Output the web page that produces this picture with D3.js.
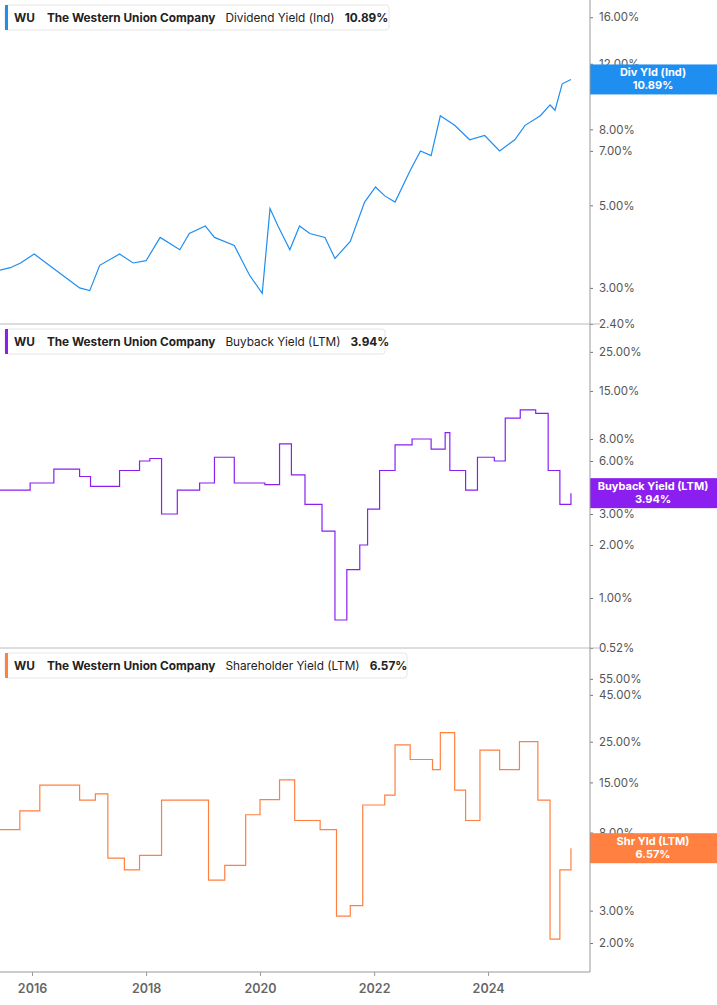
<!DOCTYPE html>
<html><head><meta charset="utf-8">
<script src="https://cdn.jsdelivr.net/npm/d3@7"></script>
<style>body{margin:0;background:#fff;font-family:Inter,"Noto Sans",sans-serif}</style>
</head><body><svg id="chart" width="717" height="1005"></svg>
<script>
// dividend yield (indicated), %
const divDates = ["2015-06-10","2015-08-15","2015-10-20","2016-01-15","2016-04-20","2016-08-25","2016-11-01","2017-01-05","2017-03-10","2017-07-15","2017-10-10","2018-01-01","2018-04-01","2018-08-05","2018-10-05","2019-01-15","2019-03-15","2019-07-20","2019-10-25","2020-01-15","2020-03-05","2020-04-25","2020-07-10","2020-09-10","2020-11-15","2021-02-20","2021-04-25","2021-08-01","2021-11-01","2022-01-10","2022-03-10","2022-05-15","2022-08-20","2022-10-25","2023-01-01","2023-03-01","2023-06-01","2023-09-05","2023-12-10","2024-03-15","2024-06-20","2024-08-25","2024-12-01","2025-02-01","2025-03-05","2025-04-20","2025-06-15"];
const divVals = [3.35,3.4,3.5,3.7,3.45,3.15,3.0,2.95,3.45,3.7,3.5,3.55,4.1,3.8,4.2,4.4,4.1,3.9,3.25,2.9,4.9,4.4,3.8,4.4,4.2,4.1,3.6,4.0,5.1,5.6,5.3,5.1,6.2,7.0,6.8,8.7,8.2,7.5,7.7,7.0,7.5,8.2,8.7,9.3,9.0,10.6,10.89];

// buyback yield (LTM), %
const bbDates = ["2015-06-10","2015-12-20","2016-05-20","2016-11-01","2017-01-10","2017-07-15","2017-11-20","2018-01-25","2018-04-10","2018-07-20","2018-12-10","2019-03-15","2019-07-20","2020-02-01","2020-05-05","2020-07-20","2020-10-15","2021-02-01","2021-04-25","2021-07-10","2021-10-01","2021-11-20","2022-02-05","2022-05-15","2022-09-01","2023-01-01","2023-04-01","2023-05-01","2023-08-10","2023-10-25","2024-02-10","2024-04-20","2024-07-25","2024-11-01","2025-01-20","2025-04-05","2025-06-15"];
const bbVals = [4.1,4.5,5.4,4.9,4.3,5.3,6.0,6.2,3.0,4.1,4.5,6.3,4.5,4.4,7.5,5.0,3.4,2.4,0.75,1.45,2.0,3.2,5.3,7.4,8.0,7.0,8.7,5.3,4.1,6.3,6.0,10.5,11.7,11.2,5.3,3.4,3.94];

// shareholder yield (LTM), %
const shDates = ["2015-06-10","2015-10-15","2016-02-20","2016-07-01","2016-11-01","2017-02-10","2017-05-01","2017-08-15","2017-11-20","2018-04-10","2018-08-05","2018-11-15","2019-02-05","2019-05-20","2019-10-01","2020-01-01","2020-05-05","2020-08-10","2021-01-20","2021-05-05","2021-08-01","2021-10-20","2022-03-10","2022-05-15","2022-08-20","2023-01-10","2023-03-01","2023-06-01","2023-08-10","2023-11-10","2024-03-15","2024-07-20","2024-11-15","2025-02-01","2025-04-05","2025-06-15"];
const shVals = [8.3,10.5,14.5,14.5,12,13,5.8,5.0,6.0,12,12,12,4.4,5.3,10,12.1,15.5,9.3,8.3,2.8,3.2,11.3,12.8,24,20,17.6,28,13.6,9.3,22.5,17.6,25,12,2.1,5.0,6.57];

const xTicks = ["2016","2018","2020","2022","2024"];

const panels = [
  {name:"Dividend Yield (Ind)", tag:"Div Yld (Ind)", dates:divDates, vals:divVals, color:"#1f8ef1", step:false,
   top:0, bottom:324, domain:[17.8,2.4], ticks:[16,12,8,7,5,3,2.4], legendW:384},
  {name:"Buyback Yield (LTM)", tag:"Buyback Yield (LTM)", dates:bbDates, vals:bbVals, color:"#8a1ff0", step:true,
   top:324, bottom:648, domain:[36,0.52], ticks:[25,15,8,6,3,2,1,0.52], legendW:380},
  {name:"Shareholder Yield (LTM)", tag:"Shr Yld (LTM)", dates:shDates, vals:shVals, color:"#ff8040", step:true,
   top:648, bottom:972, domain:[81,1.39], ticks:[55,45,25,15,8,6,3,2], legendW:402}
];

const W = 590;
const svg = d3.select("#chart");
const parse = d3.timeParse("%Y-%m-%d");
const x = d3.scaleTime().domain([parse("2015-06-10"), parse("2025-10-15")]).range([0, W]);

panels.forEach(p => {
  const y = d3.scaleLog().domain(p.domain).range([p.top, p.bottom]);
  const data = p.dates.map((d,i) => ({d:parse(d), v:p.vals[i]}));

  svg.append("path").datum(data)
    .attr("fill","none").attr("stroke",p.color).attr("stroke-width",1.2)
    .attr("d", d3.line().x(d=>x(d.d)).y(d=>y(d.v)).curve(p.step ? d3.curveStepAfter : d3.curveLinear));

  // right axis
  const ax = svg.append("g").attr("transform",`translate(${W},0)`)
    .call(d3.axisRight(y).tickValues(p.ticks).tickSize(3).tickFormat(d => d3.format(".2f")(d)+"%"));
  ax.select(".domain").remove();
  ax.selectAll("line").attr("stroke","#777");
  ax.selectAll("text").attr("fill","#555").attr("font-size",11.5).attr("x",9)
    .attr("font-family","Inter,sans-serif");

  // separator
  if (p.bottom < 972)
    svg.append("line").attr("x1",0).attr("x2",W+10).attr("y1",p.bottom).attr("y2",p.bottom).attr("stroke","#bbb");

  // legend
  const lg = svg.append("g").attr("transform",`translate(5,${p.top+5})`);
  lg.append("rect").attr("width",p.legendW).attr("height",25).attr("rx",3)
    .attr("fill","#fff").attr("stroke","#e6e6e6");
  lg.append("rect").attr("width",3).attr("height",25).attr("fill",p.color);
  const t = lg.append("text").attr("x",9).attr("y",17).attr("font-size",11.8).attr("fill","#222");
  t.append("tspan").attr("font-weight",700).text("WU");
  t.append("tspan").attr("dx",12).attr("font-weight",700).text("The Western Union Company");
  t.append("tspan").attr("dx",10).text(p.name);
  const last = p.vals[p.vals.length-1];
  t.append("tspan").attr("dx",10).attr("font-weight",700).text(d3.format(".2f")(last)+"%");

  // value tag (covers the tick label beneath it, as in the source)
  const ly = y(last);
  svg.append("rect").attr("x",W).attr("y",ly-15).attr("width",717-W).attr("height",30).attr("fill",p.color);
  svg.append("text").attr("x",W+63).attr("y",ly-3).attr("text-anchor","middle").attr("fill","#fff")
    .attr("font-size",11).attr("font-weight",700).text(p.tag);
  svg.append("text").attr("x",W+63).attr("y",ly+10).attr("text-anchor","middle").attr("fill","#fff")
    .attr("font-size",11).attr("font-weight",700).text(d3.format(".2f")(last)+"%");
});

// frame
svg.append("line").attr("x1",W).attr("x2",W).attr("y1",0).attr("y2",972).attr("stroke","#999");
svg.append("line").attr("x1",0).attr("x2",W).attr("y1",972).attr("y2",972).attr("stroke","#999");

// bottom axis
const xa = svg.append("g").attr("transform","translate(0,972)")
  .call(d3.axisBottom(x).tickValues(xTicks.map(s => parse(s+"-01-01"))).tickSize(4).tickFormat(d3.timeFormat("%Y")));
xa.select(".domain").remove();
xa.selectAll("line").attr("stroke","#999");
xa.selectAll("text").attr("fill","#666").attr("font-size",12.5).attr("font-weight",600).attr("dy","1.1em")
  .attr("font-family","Inter,sans-serif");
</script></body></html>
